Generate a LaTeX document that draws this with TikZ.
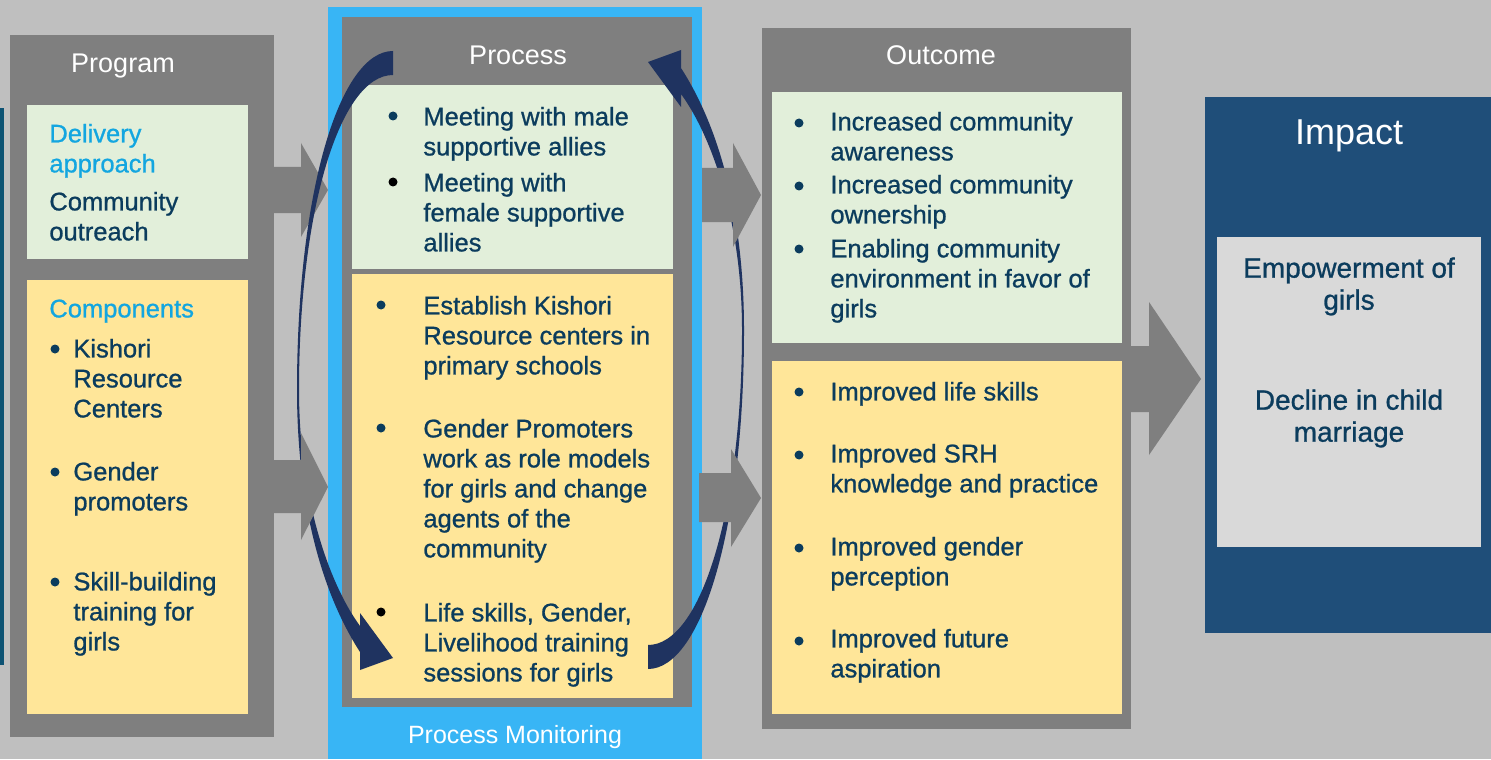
\documentclass[tikz,border=0pt]{standalone}
\usepackage{fontspec}
\setmainfont{Liberation Sans}[BoldFont=Liberation Sans, BoldFeatures={FakeBold=0.9}]
\definecolor{canvas}{HTML}{BFBFBF}
\definecolor{panelgray}{HTML}{7F7F7F}
\definecolor{softgreen}{HTML}{E2EFDA}
\definecolor{softyellow}{HTML}{FFE699}
\definecolor{monitorblue}{HTML}{38B5F5}
\definecolor{impactblue}{HTML}{1F4E79}
\definecolor{impactgray}{HTML}{D9D9D9}
\definecolor{inkblue}{HTML}{0B3C5D}
\definecolor{headcyan}{HTML}{13A6E0}
\definecolor{loopnavy}{HTML}{1F3360}
\definecolor{edgeblue}{HTML}{0D5273}
% strut that fixes the height of the first line of a text block
\newcommand\ftop{\rule{0pt}{10pt}}
\tikzset{
  body/.style={anchor=north west, inner sep=0pt, align=left, text=inkblue,
    font=\fontsize{12.75pt}{15pt}\selectfont\bfseries},
  cyanhead/.style={body, text=headcyan},
  centerbody/.style={anchor=north, inner sep=0pt, align=center, text=inkblue,
    font=\fontsize{14pt}{16pt}\selectfont\bfseries},
  paneltitle/.style={anchor=base, inner sep=0pt, text=white,
    font=\fontsize{13.5pt}{16pt}\selectfont},
  blockarrow/.style={fill=panelgray},
  looparrow/.style={fill=loopnavy},
  dot/.style={fill=inkblue},
  blackdot/.style={fill=black}
}
\begin{document}
\begin{tikzpicture}[x=0.5pt, y=-0.5pt]
\useasboundingbox (0,0) rectangle (1491,759);
\fill[canvas] (0,0) rectangle (1491,759);
\fill[edgeblue] (0,108) rectangle (3.5,665);

% ---------- Program column ----------
\fill[panelgray] (10,35) rectangle (274,737);
\fill[softgreen] (27,105) rectangle (248,259);
\fill[softyellow] (27,280) rectangle (248,714);
\node[paneltitle] (progtitle) at (123,73) {Program};
\node[cyanhead] (delivery) at (49,122) {\ftop Delivery\\approach};
\node[body] (outreach) at (49,190) {\ftop Community\\outreach};
\node[cyanhead] (components) at (49,297) {\ftop Components};
\fill[dot] (55,349) circle (4.5);
\node[body] (kishori) at (73,337) {\ftop Kishori\\Resource\\Centers};
\fill[dot] (55,472) circle (4.5);
\node[body] (promoters) at (73,460) {\ftop Gender\\promoters};
\fill[dot] (55,582) circle (4.5);
\node[body] (skills) at (73,570) {\ftop Skill-building\\training for\\girls};

% ---------- Process column with monitoring band ----------
\fill[monitorblue] (328,7) rectangle (702,759);
\fill[panelgray] (342,17) rectangle (692,707);
\fill[softgreen] (352,85) rectangle (673,269);
\fill[softyellow] (352,274) rectangle (673,698);
\node[paneltitle] (proctitle) at (518,65) {Process};
\fill[dot] (393,116) circle (4.5);
\node[body] (male) at (423,105) {\ftop Meeting with male\\supportive allies};
\fill[blackdot] (393,182) circle (4.5);
\node[body] (female) at (423,171) {\ftop Meeting with\\female supportive\\allies};
\fill[dot] (381,305) circle (4.5);
\node[body] (centres) at (423,294) {\ftop Establish Kishori\\Resource centers in\\primary schools};
\fill[dot] (381,428) circle (4.5);
\node[body] (rolemodels) at (423,417) {\ftop Gender Promoters\\work as role models\\for girls and change\\agents of the\\community};
\fill[blackdot] (381,612) circle (4.5);
\node[body] (training) at (423,601) {\ftop Life skills, Gender,\\Livelihood training\\sessions for girls};
\node[paneltitle, font=\fontsize{12.5pt}{15pt}\selectfont] (monitoring) at (515,743) {Process Monitoring};

% ---------- Outcome column ----------
\fill[panelgray] (762,28) rectangle (1131,729);
\fill[softgreen] (772,92) rectangle (1122,343);
\fill[softyellow] (772,361) rectangle (1122,714);
\node[paneltitle] (outtitle) at (941,65) {Outcome};
\fill[dot] (799,123) circle (4.5);
\node[body] (awareness) at (830,110) {\ftop Increased community\\awareness};
\fill[dot] (799,186) circle (4.5);
\node[body] (ownership) at (830,173) {\ftop Increased community\\ownership};
\fill[dot] (799,249) circle (4.5);
\node[body] (environment) at (830,237) {\ftop Enabling community\\environment in favor of\\girls};
\fill[dot] (799,392) circle (4.5);
\node[body] (lifeskills) at (830,380) {\ftop Improved life skills};
\fill[dot] (799,455) circle (4.5);
\node[body] (srh) at (830,442) {\ftop Improved SRH\\knowledge and practice};
\fill[dot] (799,548) circle (4.5);
\node[body] (perception) at (830,535) {\ftop Improved gender\\perception};
\fill[dot] (799,641) circle (4.5);
\node[body] (aspiration) at (830,627) {\ftop Improved future\\aspiration};

% ---------- Impact column ----------
\fill[impactblue] (1205,97) rectangle (1491,633);
\fill[impactgray] (1217,237) rectangle (1481,547);
\node[paneltitle, font=\fontsize{18pt}{20pt}\selectfont] (imptitle) at (1349,145) {Impact};
\node[centerbody] (empower) at (1349,257) {\ftop Empowerment of\\girls};
\node[centerbody] (decline) at (1349,389) {\ftop Decline in child\\marriage};

% ---------- block arrows between the columns ----------
\path[blockarrow] (274,167) -- (301,167) -- (301,143) -- (328,190) -- (301,237) -- (301,213) -- (274,213) -- cycle;

% ---------- feedback loop around the process column ----------
\path[looparrow] (393,51) .. controls (340,51) and (297,190) .. (297,390)
  .. controls (297,500) and (320,590) .. (360,652)
  -- (360,670) -- (393,658) -- (360,613) -- (360,626)
  .. controls (330,585) and (299,500) .. (299,390)
  .. controls (299,210) and (340,75) .. (393,75) -- cycle;
\begin{scope}[rotate around={180:(520.5,360)}]
\path[looparrow] (393,51) .. controls (340,51) and (297,190) .. (297,390)
  .. controls (297,500) and (320,590) .. (360,652)
  -- (360,670) -- (393,658) -- (360,613) -- (360,626)
  .. controls (330,585) and (299,500) .. (299,390)
  .. controls (299,210) and (340,75) .. (393,75) -- cycle;
\end{scope}

\path[blockarrow] (274,460) -- (301,460) -- (301,433) -- (328,487) -- (301,540) -- (301,513) -- (274,513) -- cycle;
\path[blockarrow] (702,168) -- (733,168) -- (733,143) -- (761,195) -- (733,247) -- (733,222) -- (702,222) -- cycle;
\path[blockarrow] (699,473) -- (731,473) -- (731,449) -- (761,498) -- (731,547) -- (731,522) -- (699,522) -- cycle;
\path[blockarrow] (1131,346) -- (1149,346) -- (1149,302) -- (1201,379) -- (1149,455) -- (1149,412) -- (1131,412) -- cycle;
\end{tikzpicture}
\end{document}
